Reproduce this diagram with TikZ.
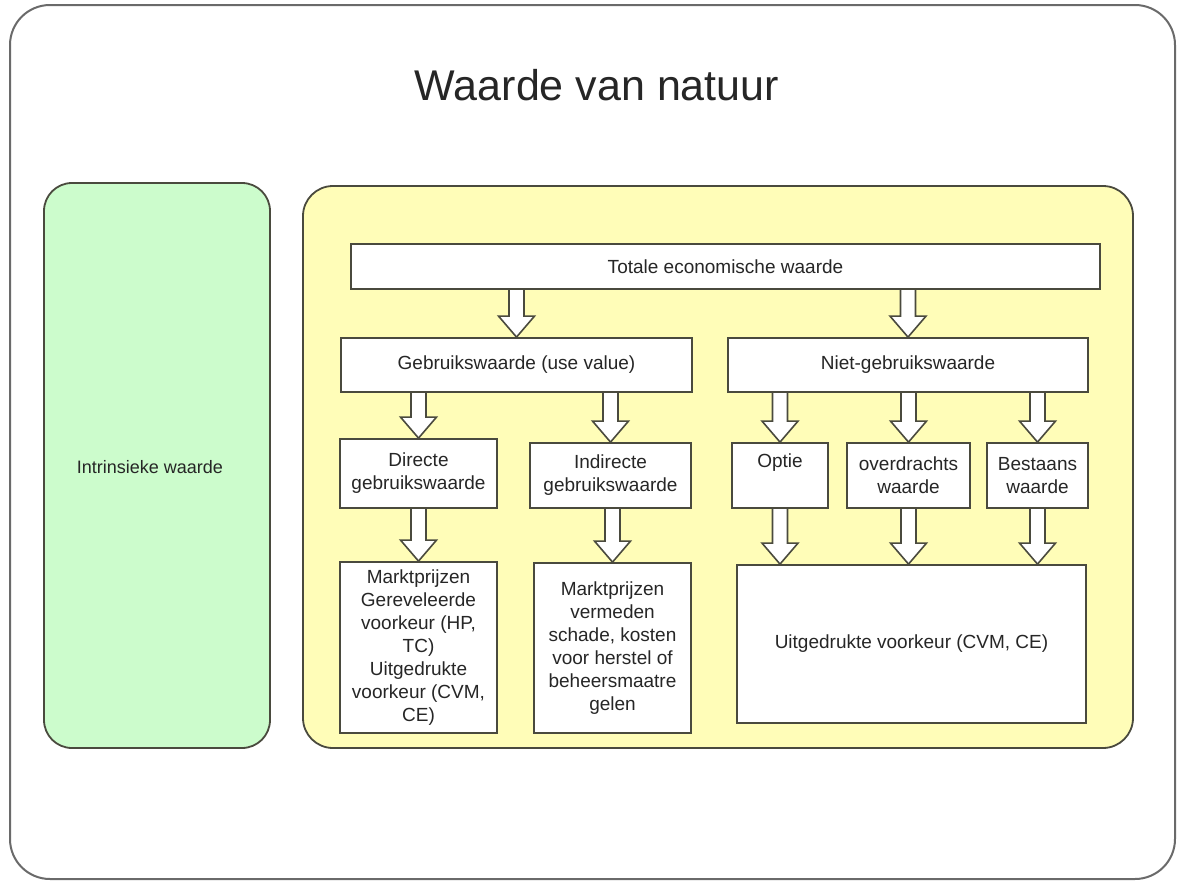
\documentclass[tikz,border=0pt]{standalone}
\usepackage{fontspec}
\setmainfont{Liberation Sans}
\usetikzlibrary{calc}
\pgfdeclarelayer{back}
\pgfdeclarelayer{mid}
\pgfsetlayers{back,mid,main}

\definecolor{edge}{HTML}{4A4A3E}
\definecolor{frame}{HTML}{6A6A6A}
\definecolor{greenfill}{HTML}{CCFCCC}
\definecolor{yellowfill}{HTML}{FFFDB8}
\definecolor{txt}{HTML}{262626}

\tikzset{
  box/.style={draw=edge, fill=white, line width=1.8pt, rectangle, align=center,
    inner sep=0pt, font=\fontsize{19}{23}\selectfont, text=txt},
  panel/.style={draw=edge, line width=1.8pt, rounded corners=30pt},
  blockarrow/.style={draw=edge, fill=white, line width=1.6pt, line join=miter},
}

% hollow block arrow from point #1 straight down to point #2
\newcommand\blockarrow[2]{%
  \path[blockarrow] let \p1=#1, \p2=#2 in
    (\x1-7.5pt,\y1) -- (\x1-7.5pt,\y2+21pt) -- (\x1-18pt,\y2+21pt) --
    (\x2,\y2) -- (\x2+18pt,\y2+21pt) -- (\x2+7.5pt,\y2+21pt) -- (\x1+7.5pt,\y1);%
}

\begin{document}
\begin{tikzpicture}[x=1pt, y=-1pt]
\useasboundingbox (0,0) rectangle (1179,881);

% slide frame and title
\begin{pgfonlayer}{back}
\draw[frame, line width=2pt, rounded corners=40pt] (10,5) rectangle (1175,879);
\node[text=txt, font=\fontsize{43}{50}\selectfont] (title) at (597,85) {Waarde van natuur};

% the two panels
\draw[panel, fill=greenfill, rounded corners=28pt] (44,183) rectangle (270,748);
\node[text=txt, font=\fontsize{18}{22}\selectfont] (intr) at (150,467) {Intrinsieke waarde};
\draw[panel, fill=yellowfill] (303,186) rectangle (1133,748);
\end{pgfonlayer}

% boxes
\node[box, minimum width=749pt, minimum height=45pt] (tot) at (725.5,266.5) {Totale economische waarde};
\node[box, minimum width=351pt, minimum height=54pt] (geb) at (516.5,365) {Gebruikswaarde (use value)};
\node[box, minimum width=360pt, minimum height=54pt] (niet) at (908,365) {Niet-gebruikswaarde};

\node[box, minimum width=157pt, minimum height=69pt] (dir) at (418.5,473.5) {Directe\\gebruikswaarde};
\node[box, minimum width=161pt, minimum height=65pt] (ind) at (610.5,475.5) {Indirecte\\gebruikswaarde};
\node[box, minimum width=96pt, minimum height=65pt] (opt) at (780,475.5) {Optie\\\strut};
\node[box, minimum width=123pt, minimum height=65pt] (over) at (908.5,475.5) {overdrachts\\waarde};
\node[box, minimum width=101pt, minimum height=65pt] (best) at (1037.5,475.5) {Bestaans\\waarde};

\node[box, minimum width=157pt, minimum height=171pt] (mp1) at (418.5,647.5)
  {Marktprijzen\\Gereveleerde\\voorkeur (HP,\\TC)\\Uitgedrukte\\voorkeur (CVM,\\CE)};
\node[box, minimum width=157pt, minimum height=170pt] (mp2) at (612.5,648)
  {Marktprijzen\\vermeden\\schade, kosten\\voor herstel of\\beheersmaatre\\gelen};
\node[box, minimum width=349pt, minimum height=158pt] (uit) at (911.5,644)
  {Uitgedrukte voorkeur (CVM, CE)};

% arrows
\begin{pgfonlayer}{mid}
\blockarrow{(tot.south -| geb.north)}{(geb.north)}
\blockarrow{(tot.south -| niet.north)}{(niet.north)}
\blockarrow{(geb.south -| dir.north)}{(dir.north)}
\blockarrow{(geb.south -| ind.north)}{(ind.north)}
\blockarrow{(niet.south -| opt.north)}{(opt.north)}
\blockarrow{(niet.south -| over.north)}{(over.north)}
\blockarrow{(niet.south -| best.north)}{(best.north)}
\blockarrow{(dir.south)}{(mp1.north)}
\blockarrow{(ind.south -| mp2.north)}{(mp2.north)}
\blockarrow{(opt.south)}{(opt.south |- uit.north)}
\blockarrow{(over.south)}{(over.south |- uit.north)}
\blockarrow{(best.south)}{(best.south |- uit.north)}
\end{pgfonlayer}
\end{tikzpicture}
\end{document}
